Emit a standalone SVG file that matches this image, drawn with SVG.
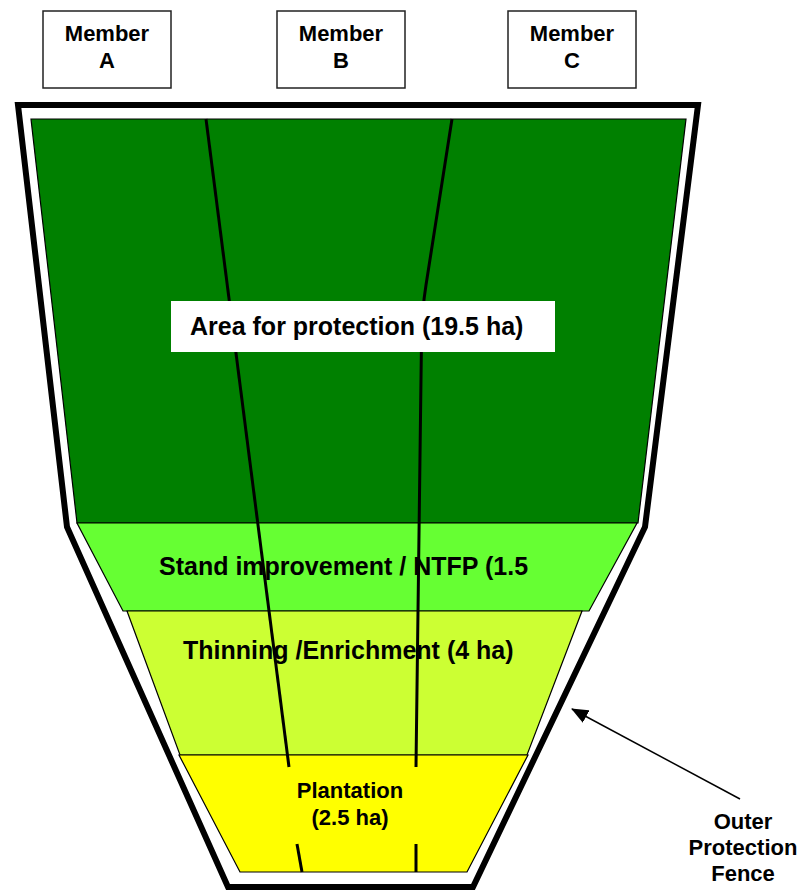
<svg xmlns="http://www.w3.org/2000/svg" width="801" height="890" viewBox="0 0 801 890">
<style>
text{font-family:"Liberation Sans",Arial,sans-serif;font-weight:bold;fill:#000}
.box{fill:#fff;stroke:#222;stroke-width:1.5}
.zone{stroke:#000;stroke-width:1.2;stroke-linejoin:miter}
.div{fill:none;stroke:#000;stroke-width:3}
.m{font-size:22px;text-anchor:middle}
.lbl{font-size:25px}
</style>
<defs>
<marker id="ah" markerUnits="userSpaceOnUse" markerWidth="18" markerHeight="14" refX="16" refY="7" orient="auto">
<path d="M0,0 L17,7 L0,14 Z" fill="#000"/>
</marker>
</defs>
<rect width="801" height="890" fill="#fff"/>
<g id="fence">
<polygon points="18,105 698,105 645,527 473,887 228,887 67,527" fill="#fff" stroke="#000" stroke-width="6" stroke-linejoin="miter"/>
</g>
<g id="zone-protection">
<polygon class="zone" points="31,119 686,119 638,523 77,523" fill="#008000"/>
</g>
<g id="zone-stand">
<polygon class="zone" points="77,523 637,523 589,611 123,611" fill="#66FF33"/>
</g>
<g id="zone-thinning">
<polygon class="zone" points="127,611 582,611 527,755 180,755" fill="#CCFF33"/>
</g>
<g id="zone-plantation">
<polygon class="zone" points="179,755 528,755 467,872 240,872" fill="#FFFF00"/>
</g>
<g id="dividers">
<path class="div" d="M206,119 L289,767"/>
<path class="div" d="M297,844 L302,872"/>
<path class="div" d="M452,119 L426,285 Q422,310 421.5,340 L416,767"/>
<path class="div" d="M416,844 L416,872"/>
</g>
<g id="label-protection">
<rect x="171" y="301" width="384" height="51" fill="#fff"/>
<text class="lbl" x="190" y="335">Area for protection (19.5 ha)</text>
</g>
<g id="label-stand">
<text class="lbl" x="159" y="575">Stand improvement / NTFP (1.5</text>
</g>
<g id="label-thinning">
<text class="lbl" x="183" y="659">Thinning /Enrichment (4 ha)</text>
</g>
<g id="label-plantation">
<text class="m" x="350" y="798">Plantation</text>
<text class="m" x="350" y="825">(2.5 ha)</text>
</g>
<g id="member-a">
<rect class="box" x="43" y="11" width="128" height="77"/>
<text class="m" x="107" y="41">Member</text>
<text class="m" x="107" y="68">A</text>
</g>
<g id="member-b">
<rect class="box" x="277" y="11" width="128" height="77"/>
<text class="m" x="341" y="41">Member</text>
<text class="m" x="341" y="68">B</text>
</g>
<g id="member-c">
<rect class="box" x="508" y="11" width="128" height="77"/>
<text class="m" x="572" y="41">Member</text>
<text class="m" x="572" y="68">C</text>
</g>
<g id="fence-label">
<text class="m" x="743" y="829">Outer</text>
<text class="m" x="743" y="855">Protection</text>
<text class="m" x="743" y="881">Fence</text>
</g>
<g id="connectors">
<line x1="740" y1="799" x2="572" y2="709" stroke="#000" stroke-width="1.5" marker-end="url(#ah)"/>
</g>
</svg>
